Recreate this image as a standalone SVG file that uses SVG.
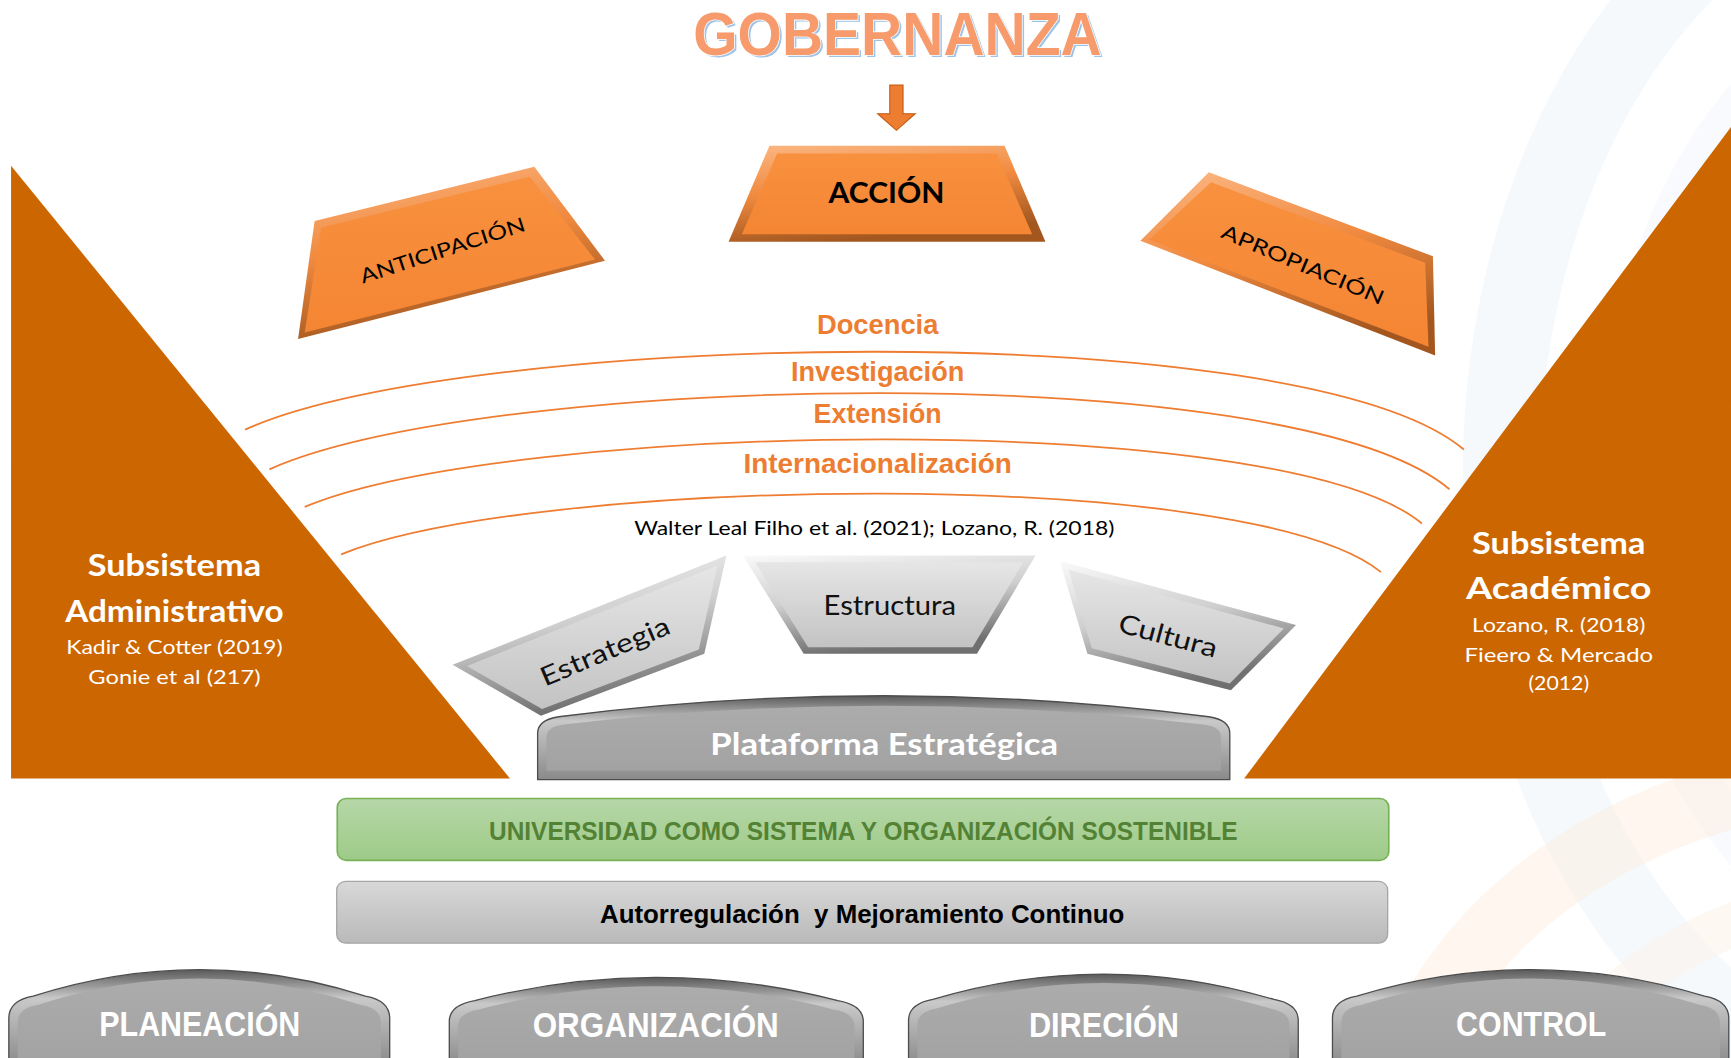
<svg xmlns="http://www.w3.org/2000/svg" width="1731" height="1058" viewBox="0 0 1731 1058">
<defs>
<style>
.cal{font-family:"Liberation Sans Narrow","Liberation Sans",Arial,sans-serif;font-weight:bold;text-anchor:middle}
.cg{font-family:Lato,"DejaVu Sans","Liberation Sans",sans-serif;text-anchor:middle}
.cgb{font-family:Lato,"DejaVu Sans","Liberation Sans",sans-serif;font-weight:bold;text-anchor:middle}
.arc{fill:none;stroke:#EE7D31;stroke-width:1.6}
.lbl{fill:#ED7D31;font-size:25px}
.tri{fill:#CC6600}
.tabtxt{fill:#FFFFFF;font-size:31px}
.tabout{fill:url(#gTabOut);stroke:#4d4d4d;stroke-width:1.2}
.tabin{fill:url(#gTabIn)}
.oout{fill:url(#gOrBevel)}
.oin{fill:url(#gOrIn)}
.gout{fill:url(#gGrBevel)}
.gin{fill:url(#gGrIn)}
</style>
<linearGradient id="gOrBevel" x1="0" y1="0" x2="0.3" y2="1">
<stop offset="0" stop-color="#FCB884"/>
<stop offset="0.5" stop-color="#F08A40"/>
<stop offset="1" stop-color="#A3571F"/>
</linearGradient>
<linearGradient id="gOrIn" x1="0" y1="0" x2="0" y2="1">
<stop offset="0" stop-color="#F8913F"/>
<stop offset="1" stop-color="#F48533"/>
</linearGradient>
<linearGradient id="gGrBevel" x1="0" y1="0" x2="0.3" y2="1">
<stop offset="0" stop-color="#FAFAFA"/>
<stop offset="0.5" stop-color="#CFCFCF"/>
<stop offset="1" stop-color="#707070"/>
</linearGradient>
<linearGradient id="gGrIn" x1="0" y1="0" x2="0" y2="1">
<stop offset="0" stop-color="#E6E6E6"/>
<stop offset="1" stop-color="#C3C3C3"/>
</linearGradient>
<linearGradient id="gTabOut" x1="0" y1="0" x2="0" y2="1">
<stop offset="0" stop-color="#5A5A5A"/>
<stop offset="0.3" stop-color="#C9C9C9"/>
<stop offset="1" stop-color="#8A8A8A"/>
</linearGradient>
<linearGradient id="gTabIn" x1="0" y1="0" x2="0" y2="1">
<stop offset="0" stop-color="#ACACAC"/>
<stop offset="1" stop-color="#A2A2A2"/>
</linearGradient>
<linearGradient id="gGreen" x1="0" y1="0" x2="0" y2="1">
<stop offset="0" stop-color="#B6D7A8"/>
<stop offset="1" stop-color="#9ECB88"/>
</linearGradient>
<linearGradient id="gGrayBar" x1="0" y1="0" x2="0" y2="1">
<stop offset="0" stop-color="#D8D8D8"/>
<stop offset="1" stop-color="#B9B9B9"/>
</linearGradient>
</defs>
<rect width="1731" height="1058" fill="#FFFFFF"/>
<g transform="scale(1.10395 1.10438)">
<g id="background" fill="none">
<ellipse cx="1760" cy="430" rx="400" ry="560" stroke="#E6EFF8" stroke-width="70" opacity="0.4"/>
<ellipse cx="1760" cy="430" rx="290" ry="430" stroke="#EDF3FA" stroke-width="40" opacity="0.4"/>
<ellipse cx="1720" cy="1060" rx="460" ry="360" stroke="#FDEBDC" stroke-width="60" opacity="0.45"/>
<ellipse cx="1720" cy="1060" rx="330" ry="250" stroke="#FEF2E8" stroke-width="40" opacity="0.5"/>
</g>

<g id="subsistema-administrativo">
<polygon class="tri" points="10,150 10,705 462,705"/>
<text class="cgb" x="158" y="522" font-size="27" fill="#FFFFFF" textLength="157" lengthAdjust="spacingAndGlyphs">Subsistema</text>
<text class="cgb" x="158" y="563" font-size="27" fill="#FFFFFF" textLength="198" lengthAdjust="spacingAndGlyphs">Administrativo</text>
<text class="cg" x="158" y="592" font-size="18" fill="#FFFFFF" textLength="196" lengthAdjust="spacingAndGlyphs">Kadir &amp; Cotter (2019)</text>
<text class="cg" x="158" y="619" font-size="18" fill="#FFFFFF" textLength="156" lengthAdjust="spacingAndGlyphs">Gonie et al (217)</text>
</g>

<g id="subsistema-academico">
<polygon class="tri" points="1568,115 1568,705 1127,705"/>
<text class="cgb" x="1412" y="502" font-size="27" fill="#FFFFFF" textLength="157" lengthAdjust="spacingAndGlyphs">Subsistema</text>
<text class="cgb" x="1412" y="542" font-size="27" fill="#FFFFFF" textLength="168" lengthAdjust="spacingAndGlyphs">Académico</text>
<text class="cg" x="1412" y="572" font-size="18" fill="#FFFFFF" textLength="157" lengthAdjust="spacingAndGlyphs">Lozano, R. (2018)</text>
<text class="cg" x="1412" y="599" font-size="18" fill="#FFFFFF" textLength="171" lengthAdjust="spacingAndGlyphs">Fieero &amp; Mercado</text>
<text class="cg" x="1412" y="625" font-size="18" fill="#FFFFFF" textLength="55" lengthAdjust="spacingAndGlyphs">(2012)</text>
</g>

<g id="gobernanza">
<text class="cal" x="815" y="52" font-size="56" fill="#9DC3E6" textLength="370" lengthAdjust="spacingAndGlyphs">GOBERNANZA</text>
<text class="cal" x="813" y="50" font-size="56" fill="#F79B6C" stroke="#FFFFFF" stroke-width="1.5" paint-order="stroke" textLength="370" lengthAdjust="spacingAndGlyphs">GOBERNANZA</text>
</g>

<g id="connectors">
<polygon points="806,77 818,77 818,103 829,103 812,118 795,103 806,103" fill="#ED7D31" stroke="#C55A11" stroke-width="1"/>
<path class="arc" d="M222,389 C420,300 1180,284 1326,407"/>
<path class="arc" d="M244,425 C440,338 1170,322 1313,443"/>
<path class="arc" d="M276,459 C460,382 1160,368 1288,474"/>
<path class="arc" d="M309,502 C480,432 1130,420 1251,518"/>
</g>

<g id="accion">
<polygon class="oout" points="697,132 910,132 947,219 660,219"/>
<polygon class="oin" points="704,139 903,139 935,212 672,212"/>
<text class="cgb" x="803" y="184" font-size="25" fill="#000000" textLength="105" lengthAdjust="spacingAndGlyphs">ACCIÓN</text>
</g>

<g id="anticipacion">
<polygon class="oout" points="285,200 484,151 548,236 270,307"/>
<polygon class="oin" points="291,206 480,160 539,235 276,301"/>
<text class="cg" transform="translate(401,227) rotate(-18)" x="0" y="6" font-size="18" fill="#000000" textLength="156" lengthAdjust="spacingAndGlyphs">ANTICIPACIÓN</text>
</g>

<g id="apropiacion">
<polygon class="oout" points="1095,156 1298,232 1300,322 1033,218"/>
<polygon class="oin" points="1097,165 1291,238 1294,314 1041,217"/>
<text class="cg" transform="translate(1180,240) rotate(23)" x="0" y="6" font-size="18" fill="#000000" textLength="158" lengthAdjust="spacingAndGlyphs">APROPIACIÓN</text>
</g>

<g id="ejes">
<text class="cal lbl" x="795" y="302" textLength="110" lengthAdjust="spacingAndGlyphs">Docencia</text>
<text class="cal lbl" x="795" y="345" textLength="157" lengthAdjust="spacingAndGlyphs">Investigación</text>
<text class="cal lbl" x="795" y="383" textLength="116" lengthAdjust="spacingAndGlyphs">Extensión</text>
<text class="cal lbl" x="795" y="428" textLength="243" lengthAdjust="spacingAndGlyphs">Internacionalización</text>
<text class="cg" x="792" y="484" font-size="17" fill="#000000" textLength="435" lengthAdjust="spacingAndGlyphs">Walter Leal Filho et al. (2021); Lozano, R. (2018)</text>
</g>

<g id="estrategia">
<polygon class="gout" points="410,602 658,503 638,592 490,648"/>
<polygon class="gin" points="423,603 650,512 633,588 491,642"/>
<text class="cg" transform="translate(548,590) rotate(-23)" x="0" y="8" font-size="24" fill="#111111" textLength="125" lengthAdjust="spacingAndGlyphs">Estrategia</text>
</g>

<g id="estructura">
<polygon class="gout" points="673,503 938,503 885,592 728,592"/>
<polygon class="gin" points="684,509 927,509 881,586 732,586"/>
<text class="cg" x="806" y="557" font-size="24" fill="#111111" textLength="120" lengthAdjust="spacingAndGlyphs">Estructura</text>
</g>

<g id="cultura">
<polygon class="gout" points="960,508 1174,566 1115,625 985,592"/>
<polygon class="gin" points="968,516 1163,569 1114,619 989,587"/>
<text class="cg" transform="translate(1058,576) rotate(15)" x="0" y="8" font-size="24" fill="#111111" textLength="92" lengthAdjust="spacingAndGlyphs">Cultura</text>
</g>

<g id="plataforma">
<path class="tabout" d="M487,706 L487,664 Q487,652 506,649 Q800.5,611 1095,649 Q1114,652 1114,664 L1114,706 Z"/>
<path class="tabin" d="M495,698 L495,667 Q495,658 511,656 Q800.5,622 1090,656 Q1106,658 1106,667 L1106,698 Z"/>
<text class="cgb" x="801" y="684" font-size="27" fill="#FFFFFF" textLength="315" lengthAdjust="spacingAndGlyphs">Plataforma Estratégica</text>
</g>

<g id="universidad">
<rect x="305.5" y="723" width="952.5" height="56" rx="8" fill="url(#gGreen)" stroke="#77B255" stroke-width="1.5"/>
<text class="cal" x="782" y="761" font-size="23" fill="#548235" textLength="678" lengthAdjust="spacingAndGlyphs">UNIVERSIDAD COMO SISTEMA Y ORGANIZACIÓN SOSTENIBLE</text>
</g>

<g id="autorregulacion">
<rect x="305" y="798" width="952" height="56" rx="8" fill="url(#gGrayBar)" stroke="#A6A6A6" stroke-width="1.2"/>
<text class="cal" x="781" y="836" font-size="23" fill="#000000" style="white-space:pre" textLength="475" lengthAdjust="spacingAndGlyphs">Autorregulación  y Mejoramiento Continuo</text>
</g>

<g id="planeacion">
<path class="tabout" d="M8,965 L8,922 Q8,906 30,902 Q180.5,854 331,902 Q353,906 353,922 L353,965 Z"/>
<path class="tabin" d="M16,965 L16,926 Q16,913 34,910 Q180.5,862 327,910 Q345,913 345,926 L345,965 Z"/>
<text class="cal tabtxt" x="181" y="938" textLength="182" lengthAdjust="spacingAndGlyphs">PLANEACIÓN</text>
</g>

<g id="organizacion">
<path class="tabout" d="M407,965 L407,925 Q407,910 430,906 Q594.5,864 759,906 Q782,910 782,925 L782,965 Z"/>
<path class="tabin" d="M415,965 L415,929 Q415,917 434,914 Q594.5,872 755,914 Q774,917 774,929 L774,965 Z"/>
<text class="cal tabtxt" x="594" y="939" textLength="223" lengthAdjust="spacingAndGlyphs">ORGANIZACIÓN</text>
</g>

<g id="direcion">
<path class="tabout" d="M823,965 L823,924 Q823,909 845,905 Q999.5,859 1154,905 Q1176,909 1176,924 L1176,965 Z"/>
<path class="tabin" d="M831,965 L831,928 Q831,916 849,913 Q999.5,867 1150,913 Q1168,916 1168,928 L1168,965 Z"/>
<text class="cal tabtxt" x="1000" y="939" textLength="136" lengthAdjust="spacingAndGlyphs">DIRECIÓN</text>
</g>

<g id="control">
<path class="tabout" d="M1207,965 L1207,922 Q1207,906 1229,902 Q1386.5,854 1544,902 Q1566,906 1566,922 L1566,965 Z"/>
<path class="tabin" d="M1215,965 L1215,926 Q1215,913 1233,910 Q1386.5,862 1540,910 Q1558,913 1558,926 L1558,965 Z"/>
<text class="cal tabtxt" x="1387" y="938" textLength="136" lengthAdjust="spacingAndGlyphs">CONTROL</text>
</g>
</g>
</svg>
